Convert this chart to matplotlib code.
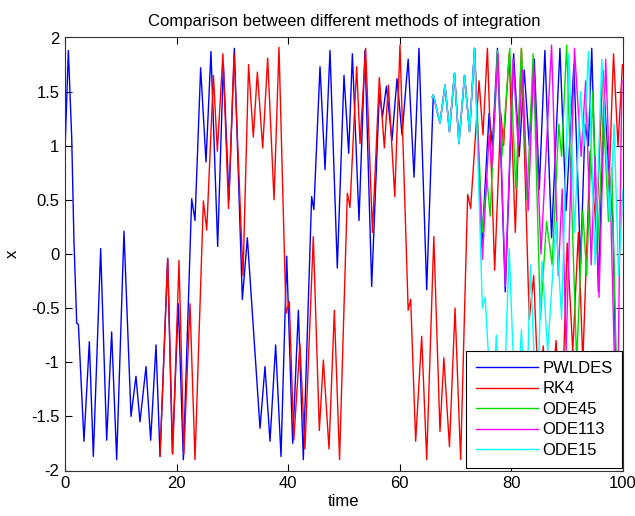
import numpy as np
import matplotlib
matplotlib.use('Agg')
import matplotlib.pyplot as plt

plt.rcParams['font.family'] = ['Liberation Sans', 'DejaVu Sans']

# peaks/troughs (time, x)
pwldes = [(0, 0.95), (0.6, 1.88), (1.2, 1.08), (1.6, 0.13), (2.1, -0.64), (2.4, -0.65),
          (3.4, -1.73), (4.36, -0.81), (5.08, -1.87), (6.39, 0.05), (7.47, -1.72), (8.36, -0.72),
          (9.26, -1.9), (10.57, 0.21), (11.83, -1.5), (12.72, -1.13), (13.44, -1.55), (14.52, -1.04),
          (15.35, -1.72), (16.31, -0.84), (17.03, -1.87), (18.4, -0.04), (19.24, -1.84), (20.31, -0.46),
          (21.21, -1.9), (22.7, 0.51), (23.3, 0.31), (24.31, 1.72), (25.27, 0.85), (26.16, 1.87),
          (27.36, 0.07), (28.38, 1.76), (29.39, 0.5), (30.35, 1.9), (31.78, -0.42), (32.68, 0.15),
          (34.95, -1.61), (35.84, -1.04), (36.74, -1.73), (37.75, -0.84), (38.71, -1.87), (39.73, -0.02),
          (40.8, -1.75), (41.82, -0.52), (42.71, -1.9), (44.2, 0.53), (44.6, 0.41), (45.7, 1.73),
          (46.6, 0.78), (47.49, 1.88), (48.8, -0.13), (50.0, 1.65), (50.84, 0.93), (51.5, 1.85),
          (52.69, 0.31), (53.76, 1.88), (54.96, -0.3), (56.33, 1.48), (56.9, 1.27), (57.6, 1.55),
          (58.6, 1.05), (59.5, 1.62), (60.4, 1.1), (61.5, 1.8), (62.55, 0.71), (63.44, 1.9),
          (64.82, -0.33), (66.0, 1.47), (67.2, 1.21), (68.1, 1.56), (68.9, 1.13), (69.8, 1.67),
          (70.6, 1.02), (71.6, 1.65), (72.5, 1.13), (73.4, 1.9), (74.7, 0.07), (76.0, 1.3),
          (76.6, 1.0), (77.5, 1.9), (78.9, -0.35), (80.4, 1.85), (81.4, 0.9), (82.3, 1.7),
          (83.2, 1.0), (84.1, 1.8), (85.0, 0.6), (86.0, 1.88), (87.2, 0.15), (88.7, 1.9),
          (89.8, 0.4), (91.2, 1.75), (92.4, -0.1), (93.2, 1.2), (93.8, 1.0), (94.4, 1.9),
          (95.6, -0.35), (96.6, 1.5), (97.3, 0.9), (98.2, 0.3), (99.0, -1.9), (99.6, -1.0), (100, -1.4)]

rk4 = [(17.03, -1.87), (18.4, -0.04), (19.3, -1.85), (20.43, -0.06), (21.3, -1.85), (22.4, -0.46),
       (23.3, -1.9), (24.8, 0.49), (25.4, 0.22), (26.6, 1.65), (27.3, 0.95), (28.3, 1.85),
       (29.3, 0.42), (30.3, 1.85), (31.9, -0.2), (32.9, 1.75), (33.75, 1.08), (34.47, 1.68),
       (35.43, 0.98), (36.32, 1.81), (37.46, 0.5), (38.35, 1.91), (39.6, -0.55), (40.2, -0.44),
       (41.0, -1.72), (42.1, -0.83), (43.0, -1.8), (44.5, 0.16), (45.58, -1.63), (46.3, -0.98),
       (47.31, -1.8), (48.27, -0.52), (49.2, -1.9), (50.6, 0.56), (51.07, 0.43), (52.27, 1.73),
       (52.87, 1.02), (53.88, 1.9), (55.1, 0.2), (56.33, 1.63), (57.23, 0.98), (57.95, 1.56),
       (59.1, 0.53), (60.03, 1.93), (61.5, -0.52), (61.95, -0.42), (62.84, -1.73), (63.92, -0.76),
       (64.82, -1.9), (66.1, 0.16), (67.2, -1.64), (67.9, -0.96), (68.9, -1.78), (69.9, -0.5),
       (70.9, -1.9), (72.16, 0.55), (72.7, 0.42), (74.2, 1.6), (74.9, 1.1), (75.7, 1.9),
       (77.0, -0.15), (78.1, 1.3), (78.6, 1.0), (79.6, 1.85), (80.7, 0.2), (81.8, 1.9),
       (83.2, -0.6), (84.0, -0.2), (85.0, -1.5), (85.7, -0.85), (86.7, -1.7), (88.0, -0.8),
       (89.0, -1.6), (90.0, 0.1), (91.0, -0.9), (92.0, 0.2), (92.8, -1.0), (94.1, 0.95),
       (95.2, 0.2), (96.4, 1.7), (97.4, 0.5), (98.3, 1.85), (99.1, 1.0), (99.9, 1.75)]

ode45 = [(65.8, 1.45), (66.0, 1.47), (67.2, 1.21), (68.1, 1.56), (68.9, 1.13), (69.8, 1.67),
         (70.6, 1.02), (71.6, 1.65), (72.5, 1.13), (73.4, 1.9), (74.8, 0.2), (75.6, 0.7),
         (76.2, 0.35), (77.5, 1.88), (78.3, 0.9), (79.7, 1.9), (80.8, 0.6), (81.8, 1.9),
         (82.8, 0.5), (83.9, 1.85), (85.2, -0.6), (86.3, 0.3), (87.3, -0.1), (88.5, 1.2),
         (89.0, 0.9), (89.9, 1.93), (91.7, -1.0), (92.8, 0.4), (93.5, -0.2), (94.6, 1.5),
         (95.4, 0.0), (96.5, 1.3), (97.4, 0.3), (98.0, 0.8), (99.2, -1.9), (100, -0.9)]

ode113 = [(65.8, 1.45), (66.0, 1.47), (67.2, 1.21), (68.1, 1.56), (68.9, 1.13), (69.8, 1.67),
          (70.6, 1.02), (71.6, 1.65), (72.5, 1.13), (73.4, 1.9), (74.8, -0.05), (76.0, 1.1),
          (76.5, 0.8), (77.6, 1.85), (78.9, -0.3), (80.3, 1.8), (81.2, 1.0), (82.0, 1.7),
          (83.0, 0.4), (84.0, 1.75), (85.3, 0.0), (87.2, 1.93), (88.4, -0.2), (89.1, 0.6),
          (89.8, -0.9), (91.3, 1.9), (92.5, 0.9), (93.3, 1.6), (94.3, -0.1), (95.0, 0.9),
          (95.7, -0.4), (96.9, 1.8), (97.8, 0.4), (98.9, -1.9), (99.8, 1.6)]

ode15 = [(65.8, 1.45), (66.0, 1.47), (67.2, 1.21), (68.1, 1.56), (68.9, 1.13), (69.8, 1.67),
         (70.6, 1.02), (71.6, 1.65), (72.5, 1.13), (73.4, 1.9), (74.8, -0.5), (75.3, -0.4),
         (76.5, -1.5), (77.3, -0.75), (78.4, -1.8), (79.6, 0.05), (80.8, -1.6), (81.8, -0.7),
         (82.6, -1.7), (83.4, -0.1), (84.5, -1.5), (85.5, -0.07), (86.5, -0.9), (88.0, 0.3),
         (89.0, -0.6), (90.3, 1.85), (91.3, 0.2), (92.4, 1.5), (93.0, 1.0), (93.8, 1.87),
         (95.0, -0.1), (96.2, 1.8), (97.6, 0.3), (98.4, 1.2), (99.2, -0.2), (100, 0.6)]

labels = ['PWLDES', 'RK4', 'ODE45', 'ODE113', 'ODE15']
colors = ['#0000ff', '#ff0000', '#00dd00', '#ff00ff', '#00ffff']
xticks = [0, 20, 40, 60, 80, 100]
yticks = [-2, -1.5, -1, -0.5, 0, 0.5, 1, 1.5, 2]
yticklabels = ['-2', '-1.5', '-1', '-0.5', '0', '0.5', '1', '1.5', '2']

fs = 12
fig = plt.figure(figsize=(6.35, 5.16), dpi=100)
ax = fig.add_axes([65/635, (516-470.5)/516, 558/635, 433/516])

for data, col, lab in zip([pwldes, rk4, ode45, ode113, ode15], colors, labels):
    d = np.array(data)
    ax.plot(d[:, 0], d[:, 1], color=col, lw=1.0, label=lab)

ax.set_xlim(0, 100)
ax.set_ylim(-2, 2)
ax.set_xticks(xticks)
ax.set_xticklabels([str(v) for v in xticks], fontsize=fs)
ax.set_yticks(yticks)
ax.set_yticklabels(yticklabels, fontsize=fs)
ax.tick_params(direction='in', top=True, right=True, length=5, width=0.8, pad=4)
for s in ax.spines.values():
    s.set_linewidth(0.8)
    s.set_color('#333333')

ax.set_title('Comparison between different methods of integration', fontsize=fs, pad=8)
ax.set_xlabel('time', fontsize=fs, labelpad=2)
ax.set_ylabel('x', fontsize=fs, labelpad=8)

leg = ax.legend(loc='lower right', bbox_to_anchor=(0.999, 0.006), fontsize=fs, fancybox=False,
                framealpha=1, edgecolor='black', handlelength=3.7, handletextpad=0.25,
                labelspacing=0.33, borderpad=0.6, borderaxespad=0.0)
leg.get_frame().set_linewidth(0.8)

fig.savefig('out.png', dpi=100)
